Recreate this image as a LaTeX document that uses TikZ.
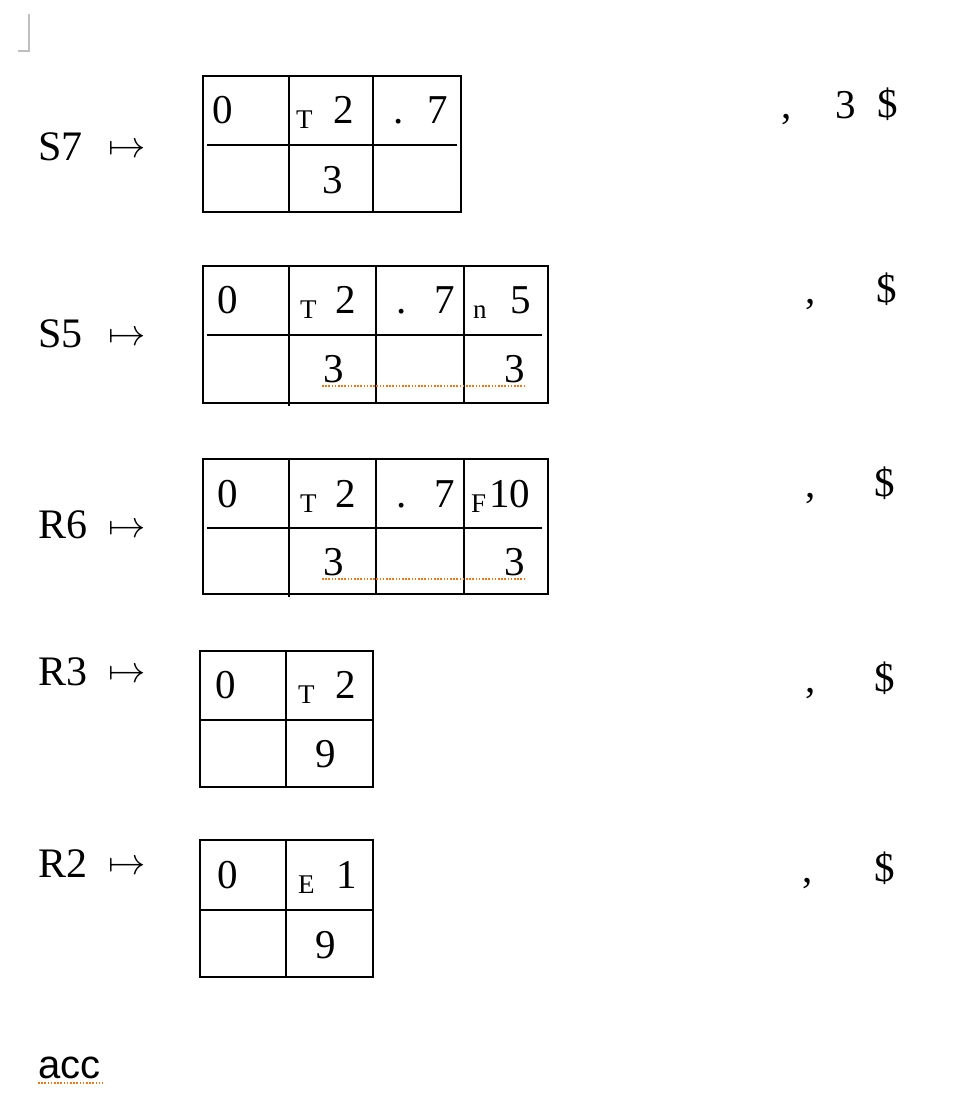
\documentclass[tikz,border=0pt]{standalone}
\usepackage{graphicx}
\usepackage{fontspec}
\setmainfont{Liberation Serif}
\newfontfamily\accf{Liberation Sans}
\definecolor{spell}{RGB}{235,120,30}
\newcommand\bigmapsto{\scalebox{1.5}{$\mapsto$}}
\begin{document}
\begin{tikzpicture}[x=1pt,y=-1pt,
  big/.style={font=\fontsize{41}{41}\selectfont, inner sep=0pt, anchor=base west},
  lab/.style={font=\fontsize{42}{42}\selectfont, inner sep=0pt, anchor=base west},
  sml/.style={font=\fontsize{27}{27}\selectfont, inner sep=0pt, anchor=base west},
  arr/.style={font=\fontsize{25}{25}\selectfont, inner sep=0pt, anchor=base west},
  accs/.style={font=\accf\fontsize{40}{40}\selectfont, inner sep=0pt, anchor=base west},
  grid/.style={line width=2pt, black},
  squig/.style={spell, line width=2pt, dash pattern=on 1.6pt off 1.6pt},
  cornermark/.style={gray!50, line width=1.5pt}]
\useasboundingbox (0,0) rectangle (954,1104);
\fill[white] (0,0) rectangle (954,1104);
% corner mark
\draw[cornermark] (18,51) -- (29,51) -- (29,14);

% ---- S7 row ----
\node[lab] (l1) at (38,160) {S7};
\node[arr] (a1) at (108,157) {\bigmapsto};
\draw[grid] (203,76) rectangle (461,212);
\draw[grid] (289,76) -- (289,212);
\draw[grid] (373,76) -- (373,212);
\draw[grid] (207,145) -- (457,145);
\node[big] (t1a) at (212,123) {0};
\node[sml] (t1b) at (296,128) {T};
\node[big] (t1c) at (333,123) {2};
\node[big] (t1d) at (393,123) {.};
\node[big] (t1e) at (427,123) {7};
\node[big] (t1f) at (322,193) {3};
\node[big] (r1a) at (781,118) {,};
\node[big] (r1b) at (835,118) {3};
\node[big] (r1c) at (877,117) {\$};

% ---- S5 row ----
\node[lab] (l2) at (38,347) {S5};
\node[arr] (a2) at (108,345) {\bigmapsto};
\draw[grid] (203,266) rectangle (548,403);
\draw[grid] (289,266) -- (289,406);
\draw[grid] (376,266) -- (376,403);
\draw[grid] (464,266) -- (464,403);
\draw[grid] (207,335) -- (542,335);
\node[big] (t2a) at (217,313) {0};
\node[sml] (t2b) at (300,318) {T};
\node[big] (t2c) at (335,313) {2};
\node[big] (t2d) at (396,313) {.};
\node[big] (t2e) at (434,313) {7};
\node[sml] (t2f) at (473,318) {n};
\node[big] (t2g) at (510,313) {5};
\node[big] (t2h) at (323,382) {3};
\node[big] (t2i) at (504,382) {3};
\draw[squig] (322,386) -- (525,386);
\node[big] (r2a) at (805,303) {,};
\node[big] (r2c) at (876,302) {\$};

% ---- R6 row ----
\node[lab] (l3) at (38,538) {R6};
\node[arr] (a3) at (108,537) {\bigmapsto};
\draw[grid] (203,459) rectangle (548,594);
\draw[grid] (289,459) -- (289,597);
\draw[grid] (376,459) -- (376,594);
\draw[grid] (464,459) -- (464,594);
\draw[grid] (207,528) -- (542,528);
\node[big] (t3a) at (217,507) {0};
\node[sml] (t3b) at (300,512) {T};
\node[big] (t3c) at (335,507) {2};
\node[big] (t3d) at (396,507) {.};
\node[big] (t3e) at (434,507) {7};
\node[sml] (t3f) at (471,512) {F};
\node[big] (t3g) at (489,507) {10};
\node[big] (t3h) at (323,575) {3};
\node[big] (t3i) at (504,575) {3};
\draw[squig] (322,579) -- (525,579);
\node[big] (r3a) at (805,497) {,};
\node[big] (r3c) at (874,496) {\$};

% ---- R3 row ----
\node[lab] (l4) at (38,685) {R3};
\node[arr] (a4) at (108,682) {\bigmapsto};
\draw[grid] (200,651) rectangle (373,787);
\draw[grid] (286,651) -- (286,787);
\draw[grid] (200,720) -- (373,720);
\node[big] (t4a) at (215,698) {0};
\node[sml] (t4b) at (298,703) {T};
\node[big] (t4c) at (335,698) {2};
\node[big] (t4d) at (315,767) {9};
\node[big] (r4a) at (805,692) {,};
\node[big] (r4c) at (874,691) {\$};

% ---- R2 row ----
\node[lab] (l5) at (38,877) {R2};
\node[arr] (a5) at (108,874) {\bigmapsto};
\draw[grid] (200,840) rectangle (373,977);
\draw[grid] (286,840) -- (286,977);
\draw[grid] (200,910) -- (373,910);
\node[big] (t5a) at (217,888) {0};
\node[sml] (t5b) at (298,893) {E};
\node[big] (t5c) at (336,888) {1};
\node[big] (t5d) at (315,958) {9};
\node[big] (r5a) at (802,882) {,};
\node[big] (r5c) at (874,881) {\$};

% ---- acc ----
\node[accs] (acc) at (38,1078) {acc};
\draw[squig] (38,1083) -- (103,1083);
\end{tikzpicture}
\end{document}
